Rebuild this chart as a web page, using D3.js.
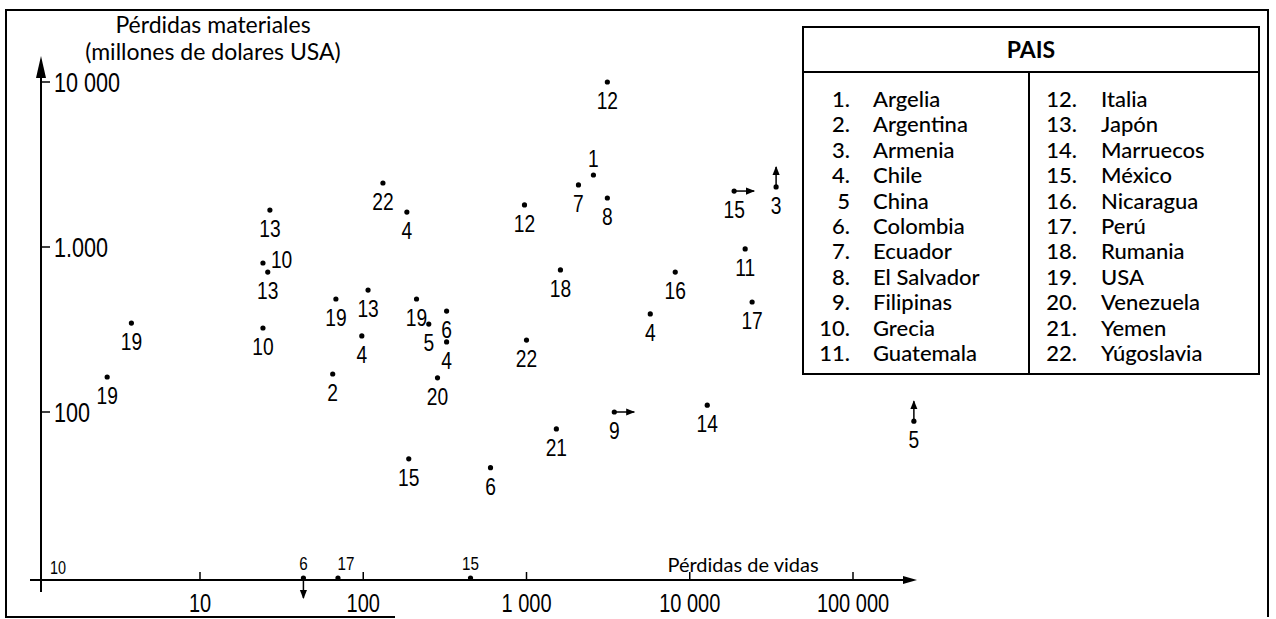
<!DOCTYPE html>
<html>
<head>
<meta charset="utf-8">
<script src="https://cdn.jsdelivr.net/npm/d3@7.9.0/dist/d3.min.js"></script>
<style>
  body { margin: 0; background: #fff; }
  svg { display: block; }
  .narrow { font-family: "Liberation Sans", Arial, sans-serif; }
  .geo { font-family: "Lato", "Open Sans", sans-serif; }
</style>
</head>
<body>
<svg id="chart" width="1276" height="619"></svg>
<script>
// legend: countries
const countries = ["Argelia", "Argentina", "Armenia", "Chile", "China", "Colombia", "Ecuador",
  "El Salvador", "Filipinas", "Grecia", "Guatemala", "Italia", "Japón", "Marruecos", "México",
  "Nicaragua", "Perú", "Rumania", "USA", "Venezuela", "Yemen", "Yúgoslavia"];
const countryNumbers = ["1.", "2.", "3.", "4.", "5", "6.", "7.", "8.", "9.", "10.", "11.",
  "12.", "13.", "14.", "15.", "16.", "17.", "18.", "19.", "20.", "21.", "22."];

// scatter points (country number, deaths, losses in millions USD)
const pointCountry = [19, 19, 13, 10, 13, 10, 22, 4, 19, 13, 4, 2, 19, 5, 6, 4, 20, 15, 6, 21, 22, 18,
  12, 7, 1, 8, 12, 15, 3, 11, 17, 16, 4, 9, 14, 5];
const pointDeaths = [3.8, 2.7, 26.8, 24.3, 26, 24.3, 132, 185, 68, 107, 98, 65, 212, 252, 324, 324, 285,
  190, 602, 1524, 1000, 1614, 972, 2081, 2570, 3128, 3128, 18700, 33800, 21850, 24100, 8150, 5730,
  3450, 12800, 236000];
const pointLosses = [346, 163, 1675, 800, 705, 323, 2443, 1629, 484, 548, 289, 170, 484, 341, 409, 266,
  161, 52, 46, 79, 273, 726, 1799, 2377, 2731, 1982, 10000, 2183, 2312, 973, 464, 705, 393, 100, 110, 88];
// label placement / arrow marks ("more than" markers)
const pointLabelPlace = ["b", "b", "b", "r", "b", "b", "b", "b", "b", "b", "b", "b", "b", "b", "b", "b",
  "b", "b", "b", "b", "b", "b", "b", "b", "a", "b", "b", "b", "b", "b", "b", "b", "b", "b", "b", "b"];
const pointArrow = ["", "", "", "", "", "", "", "", "", "", "", "", "", "", "", "", "", "", "", "", "",
  "", "", "", "", "", "", "right", "up", "", "", "", "", "right", "", "up"];

// points with no material losses (on the x axis)
const axisCountry = [6, 17, 15];
const axisDeaths = [43, 70, 454];
const axisArrow = ["down", "", ""];

// ticks
const xTicks = [10, 100, 1000, 10000, 100000];
const xTickLabels = ["10", "100", "1 000", "10 000", "100 000"];
const yTicks = [10, 100, 1000, 10000];
const yTickLabels = ["10", "100", "1.000", "10 000"];

const svg = d3.select("#chart");
const x = d3.scaleLog().domain([10, 100000]).range([200, 853]);
const y = d3.scaleLog().domain([10, 10000]).range([577, 82]);
const axisX = 41, axisY = 580;

// condensed text: regular sans squeezed horizontally
function narrowText(g, tx, ty, str, size, anchor) {
  return g.append("text").attr("class", "narrow")
    .attr("transform", `translate(${tx},${ty}) scale(0.8,1)`)
    .attr("text-anchor", anchor || "start").attr("font-size", size).text(str);
}

svg.append("defs").append("marker")
  .attr("id", "ah").attr("viewBox", "0 0 10 10").attr("refX", 9).attr("refY", 5)
  .attr("markerWidth", 6).attr("markerHeight", 6).attr("orient", "auto-start-reverse")
  .append("path").attr("d", "M0,1 L10,5 L0,9 Z").attr("fill", "#000");

// frame
svg.append("path").attr("d", "M395,617 L6,617 L6,10 L1268,10 L1268,617")
  .attr("stroke", "#000").attr("stroke-width", 2).attr("fill", "none");

// axes
svg.append("line").attr("x1", axisX).attr("x2", axisX).attr("y1", 592).attr("y2", 76)
  .attr("stroke", "#000").attr("stroke-width", 2);
svg.append("path").attr("d", `M${axisX - 5},78 L${axisX},56 L${axisX + 5},78 Z`).attr("fill", "#000");
svg.append("line").attr("x1", 30).attr("x2", 905).attr("y1", axisY).attr("y2", axisY)
  .attr("stroke", "#000").attr("stroke-width", 2);
svg.append("path").attr("d", `M903,${axisY - 4} L917,${axisY} L903,${axisY + 4} Z`).attr("fill", "#000");

xTicks.forEach((t, i) => {
  svg.append("line").attr("x1", x(t)).attr("x2", x(t)).attr("y1", axisY).attr("y2", axisY - 8)
    .attr("stroke", "#000").attr("stroke-width", 1.5);
  narrowText(svg, x(t), 612, xTickLabels[i], 25, "middle");
});

yTicks.forEach((t, i) => {
  if (t === 10) {
    narrowText(svg, axisX + 17, 574, yTickLabels[i], 18, "middle");
    return;
  }
  svg.append("line").attr("x1", axisX).attr("x2", axisX + 9).attr("y1", y(t)).attr("y2", y(t))
    .attr("stroke", "#000").attr("stroke-width", 1.5);
  narrowText(svg, axisX + 13, y(t) + 10, yTickLabels[i], 27);
});

// axis titles
svg.append("text").attr("class", "geo").attr("x", 213).attr("y", 33).attr("text-anchor", "middle")
  .attr("font-size", 23).text("Pérdidas materiales");
svg.append("text").attr("class", "geo").attr("x", 213).attr("y", 60).attr("text-anchor", "middle")
  .attr("font-size", 23).text("(millones de dolares USA)");
svg.append("text").attr("class", "geo").attr("x", 743).attr("y", 572).attr("text-anchor", "middle")
  .attr("font-size", 20).text("Pérdidas de vidas");

function drawArrow(cx, cy, dir) {
  const len = 20;
  const d = { right: [len, 0], up: [0, -len], down: [0, len] }[dir];
  svg.append("line").attr("x1", cx).attr("y1", cy).attr("x2", cx + d[0]).attr("y2", cy + d[1])
    .attr("stroke", "#000").attr("stroke-width", 1.5).attr("marker-end", "url(#ah)");
}

// scatter points
const pts = svg.append("g");
pointCountry.forEach((c, i) => {
  const cx = x(pointDeaths[i]), cy = y(pointLosses[i]);
  pts.append("circle").attr("cx", cx).attr("cy", cy).attr("r", 2.6).attr("fill", "#000");
  if (pointArrow[i]) drawArrow(cx, cy, pointArrow[i]);
  const place = pointLabelPlace[i];
  if (place === "r") narrowText(pts, cx + 8, cy + 5, c, 24);
  else if (place === "a") narrowText(pts, cx, cy - 8, c, 24, "middle");
  else narrowText(pts, cx, cy + 27, c, 24, "middle");
});

// points on the x axis
axisCountry.forEach((c, i) => {
  const cx = x(axisDeaths[i]), cy = axisY - 2;
  pts.append("circle").attr("cx", cx).attr("cy", cy).attr("r", 2.6).attr("fill", "#000");
  if (axisArrow[i]) drawArrow(cx, cy, axisArrow[i]);
  narrowText(pts, cx + (c === 17 ? 8 : 0), cy - 8, c, 19, "middle");
});

// legend box
const lg = svg.append("g").attr("class", "geo");
lg.append("rect").attr("x", 803).attr("y", 27).attr("width", 456).attr("height", 347)
  .attr("fill", "#fff").attr("stroke", "#000").attr("stroke-width", 2);
lg.append("line").attr("x1", 803).attr("x2", 1259).attr("y1", 72).attr("y2", 72)
  .attr("stroke", "#000").attr("stroke-width", 2);
lg.append("line").attr("x1", 1029).attr("x2", 1029).attr("y1", 72).attr("y2", 374)
  .attr("stroke", "#000").attr("stroke-width", 2);
lg.append("text").attr("x", 1031).attr("y", 58).attr("text-anchor", "middle")
  .attr("font-size", 23).attr("font-weight", "bold").text("PAIS");

const rowY = d3.scaleLinear().domain([0, 10]).range([107, 361]);
countries.forEach((name, i) => {
  const col = i < 11 ? 0 : 1;
  const row = i % 11;
  const numX = col === 0 ? 850 : 1077;
  const nameX = col === 0 ? 873 : 1101;
  lg.append("text").attr("x", numX).attr("y", rowY(row)).attr("text-anchor", "end")
    .attr("font-size", 22).attr("font-weight", 500).text(countryNumbers[i]);
  lg.append("text").attr("x", nameX).attr("y", rowY(row)).attr("font-size", 22)
    .attr("font-weight", 500).text(name);
});
</script>
</body>
</html>
